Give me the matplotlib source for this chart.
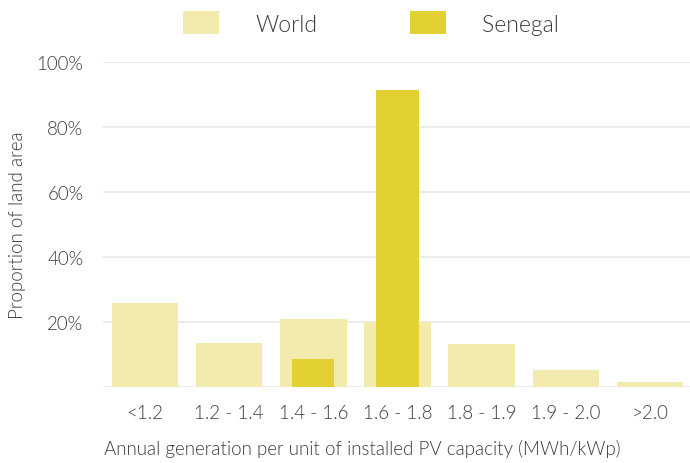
import matplotlib
matplotlib.use("Agg")
import matplotlib.pyplot as plt
import numpy as np

categories = ["<1.2", "1.2 - 1.4", "1.4 - 1.6", "1.6 - 1.8", "1.8 - 1.9", "1.9 - 2.0", ">2.0"]
world = [25.8, 13.4, 21.0, 19.9, 13.3, 5.2, 1.4]
senegal = [0, 0, 8.6, 91.4, 0, 0, 0]
ytick_vals = [20, 40, 60, 80, 100]
ytick_labels = ["20%", "40%", "60%", "80%", "100%"]

FONT = ['Lato', 'DejaVu Sans']
plt.rcParams['font.family'] = FONT
plt.rcParams['font.weight'] = 300
text_color = '#3c3c3c'
world_color = '#f3ebad'
senegal_color = '#e3d033'
fs = 13.5
lfs = 16.5

fig = plt.figure(figsize=(6.9, 4.64), dpi=100)
ax = fig.add_axes([103/690, (464-388)/464, (692-103)/690, (388-63)/464])

x = np.arange(len(categories))
ax.bar(x, world, width=0.79, color=world_color, label='World', zorder=2)
ax.bar(x, senegal, width=0.5, color=senegal_color, label='Senegal', zorder=3)

ax.set_xlim(-0.5, 6.5)
ax.set_ylim(0, 100)
ax.set_yticks([0] + ytick_vals)
ax.set_yticklabels([""] + ytick_labels)
ax.set_xticks(x)
ax.set_xticklabels(categories)
for s in ax.spines.values():
    s.set_visible(False)
ax.grid(axis='y', color='#ebebeb', linewidth=1.5, zorder=0)
ax.set_axisbelow(True)
ax.tick_params(axis='both', length=0, labelsize=fs, labelcolor=text_color)
ax.tick_params(axis='y', pad=14)
ax.tick_params(axis='x', pad=12)
for lbl in ax.get_xticklabels() + ax.get_yticklabels():
    lbl.set_fontweight(300)

ax.set_xlabel("Annual generation per unit of installed PV capacity (MWh/kWp)", fontsize=fs,
              color=text_color, fontweight=300)
ax.xaxis.label.set_verticalalignment('center')
ax.xaxis.set_label_coords((362 - 103) / (692 - 103), -(449 - 388) / (388 - 63))
ax.set_ylabel("Proportion of land area", fontsize=fs, color=text_color, fontweight=300)
ax.yaxis.set_label_coords(-0.13, 0.5)

leg = ax.legend(loc='center', bbox_to_anchor=(371/690, 1-24/464), bbox_transform=fig.transFigure,
                ncol=2, frameon=False, fontsize=lfs, handlelength=1.57, handleheight=1.14,
                handletextpad=1.57, columnspacing=4.05)
for t in leg.get_texts():
    t.set_color(text_color)
    t.set_fontweight(300)

fig.savefig("out.png", dpi=100)
